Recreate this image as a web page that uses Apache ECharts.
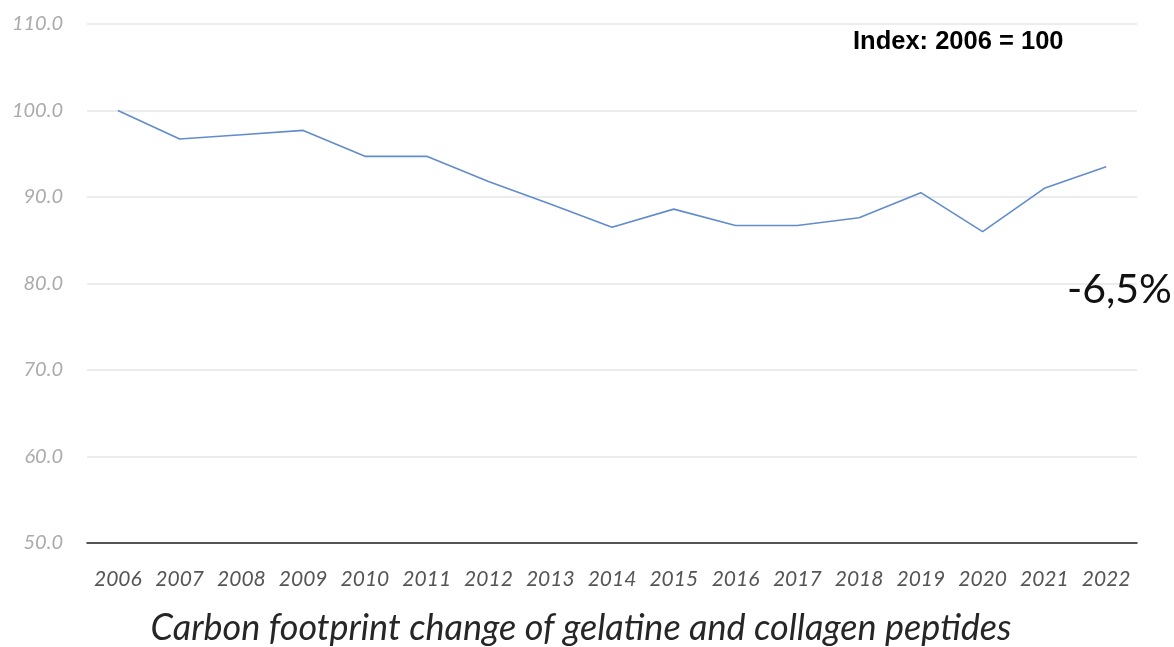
<!DOCTYPE html>
<html>
<head>
<meta charset="utf-8">
<script src="https://cdn.jsdelivr.net/npm/echarts@6/dist/echarts.min.js"></script>
<style>
html,body{margin:0;padding:0;background:#fff;}
#chart{width:1174px;height:647px;}
</style>
</head>
<body>
<div id="chart"></div>
<script>
const years = ['2006','2007','2008','2009','2010','2011','2012','2013','2014','2015','2016','2017','2018','2019','2020','2021','2022'];
const indexValues = [100.0, 96.7, 97.2, 97.7, 94.7, 94.7, 91.8, 89.2, 86.5, 88.6, 86.7, 86.7, 87.6, 90.5, 86.0, 91.0, 93.5];
const yTicks = [50, 60, 70, 80, 90, 100, 110];
const titleText = 'Carbon footprint change of gelatine and collagen peptides';
const indexNote = 'Index: 2006 = 100';
const changeNote = '-6,5%';

const chart = echarts.init(document.getElementById('chart'), null, {renderer: 'canvas'});
chart.setOption({
  animation: false,
  backgroundColor: '#ffffff',
  grid: {left: 87, right: 37, top: 24, bottom: 104, containLabel: false},
  title: [
    {text: titleText, left: 576, top: 605, textAlign: 'center',
     textStyle: {fontFamily: 'Lato', fontStyle: 'italic', fontWeight: 'normal', fontSize: 36, color: '#262626'}},
    {text: indexNote, left: 848, top: 24,
     textStyle: {fontFamily: 'Liberation Sans', fontWeight: 'bold', fontSize: 25.5, color: '#000'}},
    {text: changeNote, left: 1062, top: 264,
     textStyle: {fontFamily: 'Lato', fontWeight: 'normal', fontSize: 41, color: '#111'}}
  ],
  xAxis: {
    type: 'category',
    data: years,
    boundaryGap: true,
    axisLine: {show: true, lineStyle: {color: '#222', width: 1.5}},
    axisTick: {show: false},
    axisLabel: {margin: 26, fontFamily: 'Lato', fontStyle: 'italic', fontSize: 21, color: '#555555', interval: 0}
  },
  yAxis: {
    type: 'value',
    min: yTicks[0],
    max: yTicks[yTicks.length - 1],
    interval: 10,
    axisLine: {show: false},
    axisTick: {show: false},
    splitLine: {lineStyle: {color: '#e6e6e6', width: 1.5}},
    axisLabel: {margin: 24, fontFamily: 'Lato', fontStyle: 'italic', fontSize: 20, color: '#ababab',
      formatter: v => v.toFixed(1)}
  },
  series: [{
    type: 'line',
    data: indexValues,
    symbol: 'none',
    lineStyle: {color: '#628ccb', width: 1.6},
    z: 3
  }]
});
</script>
</body>
</html>
